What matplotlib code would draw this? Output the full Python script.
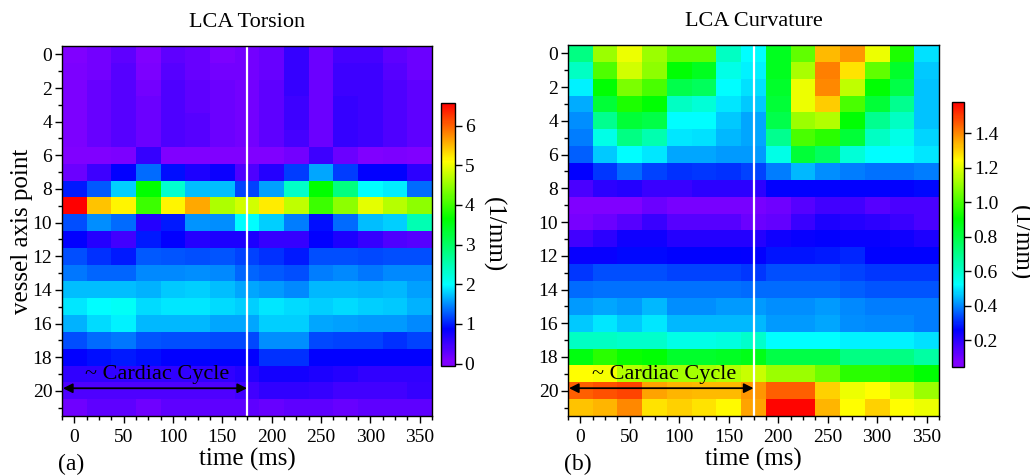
import numpy as np
import matplotlib
matplotlib.use("Agg")
import matplotlib.pyplot as plt
from matplotlib.colors import LinearSegmentedColormap, Normalize
from matplotlib.ticker import MultipleLocator

# ---------------- data ----------------
times = [0, 25, 50, 75, 100, 125, 150, 175, 200, 225, 250, 275, 300, 325, 350]
points = list(range(22))

torsion = [
    [0.05, 0.15, 0.30, 0.05, 0.30, 0.25, 0.10, 0.15, 0.25, 0.55, 0.20, 0.45, 0.45, 0.30, 0.20],
    [0.10, 0.15, 0.35, 0.10, 0.35, 0.25, 0.15, 0.15, 0.25, 0.55, 0.20, 0.50, 0.50, 0.35, 0.20],
    [0.12, 0.25, 0.35, 0.15, 0.40, 0.30, 0.20, 0.15, 0.30, 0.55, 0.20, 0.50, 0.50, 0.40, 0.30],
    [0.12, 0.25, 0.35, 0.20, 0.40, 0.30, 0.20, 0.15, 0.30, 0.50, 0.20, 0.55, 0.50, 0.40, 0.30],
    [0.12, 0.25, 0.35, 0.20, 0.40, 0.35, 0.20, 0.15, 0.30, 0.50, 0.20, 0.55, 0.50, 0.40, 0.30],
    [0.12, 0.25, 0.35, 0.20, 0.40, 0.35, 0.20, 0.15, 0.30, 0.45, 0.20, 0.55, 0.50, 0.40, 0.30],
    [0.00, 0.00, 0.10, 0.55, 0.05, 0.00, 0.03, 0.00, 0.00, 0.15, 0.50, 0.20, 0.05, 0.10, 0.05],
    [0.20, 0.50, 0.87, 1.35, 0.95, 0.70, 0.80, 0.40, 0.65, 1.15, 1.60, 1.15, 0.87, 0.87, 0.60],
    [1.00, 1.27, 1.80, 3.65, 2.30, 1.72, 1.72, 1.16, 1.58, 2.35, 3.65, 2.82, 2.00, 1.93, 1.36],
    [6.55, 5.45, 5.15, 4.00, 5.15, 5.60, 4.65, 4.85, 5.20, 4.75, 4.00, 4.45, 4.95, 4.70, 4.45],
    [1.22, 1.50, 1.36, 0.64, 1.00, 1.53, 1.50, 2.00, 1.80, 1.43, 0.95, 1.36, 1.72, 1.80, 2.50],
    [0.87, 0.64, 0.48, 1.00, 0.87, 0.64, 0.70, 0.70, 0.55, 0.55, 0.87, 0.70, 0.55, 0.40, 0.35],
    [1.22, 1.08, 1.00, 1.27, 1.24, 1.22, 1.24, 1.16, 1.08, 1.00, 1.22, 1.22, 1.19, 1.22, 1.22],
    [1.40, 1.32, 1.32, 1.47, 1.47, 1.50, 1.47, 1.32, 1.27, 1.22, 1.43, 1.47, 1.40, 1.47, 1.47],
    [1.72, 1.72, 1.72, 1.65, 1.76, 1.80, 1.72, 1.62, 1.55, 1.47, 1.68, 1.68, 1.65, 1.68, 1.58],
    [1.90, 2.00, 2.05, 1.85, 1.90, 1.90, 1.85, 1.80, 1.90, 1.85, 1.80, 1.85, 1.80, 1.76, 1.65],
    [1.65, 1.85, 1.95, 1.68, 1.68, 1.68, 1.62, 1.62, 1.80, 1.80, 1.62, 1.58, 1.55, 1.55, 1.47],
    [1.22, 1.36, 1.40, 1.24, 1.22, 1.22, 1.19, 1.19, 1.50, 1.50, 1.19, 1.16, 1.16, 1.08, 1.16],
    [0.87, 0.94, 1.00, 0.94, 0.87, 0.87, 0.87, 0.87, 1.08, 1.08, 0.87, 0.87, 0.87, 0.87, 0.87],
    [0.58, 0.58, 0.58, 0.58, 0.58, 0.58, 0.58, 0.64, 0.75, 0.75, 0.70, 0.64, 0.58, 0.58, 0.58],
    [0.40, 0.40, 0.40, 0.40, 0.40, 0.40, 0.40, 0.48, 0.58, 0.58, 0.55, 0.48, 0.48, 0.48, 0.55],
    [0.18, 0.30, 0.30, 0.18, 0.30, 0.30, 0.30, 0.30, 0.25, 0.30, 0.30, 0.25, 0.30, 0.30, 0.30],
]

curvature = [
    [0.71, 1.11, 1.22, 1.11, 1.03, 1.03, 0.61, 0.52, 0.86, 1.03, 1.33, 1.38, 1.22, 0.94, 0.49],
    [0.61, 1.01, 1.18, 1.09, 0.90, 0.86, 0.56, 0.51, 0.86, 1.13, 1.41, 1.28, 1.03, 0.84, 0.47],
    [0.51, 0.90, 1.07, 1.00, 0.79, 0.77, 0.52, 0.49, 0.84, 1.22, 1.40, 1.16, 0.90, 0.80, 0.46],
    [0.44, 0.82, 0.94, 0.90, 0.61, 0.58, 0.50, 0.47, 0.82, 1.22, 1.31, 1.00, 0.82, 0.69, 0.46],
    [0.41, 0.69, 0.82, 0.80, 0.52, 0.52, 0.47, 0.43, 0.79, 1.11, 1.14, 0.90, 0.69, 0.61, 0.46],
    [0.39, 0.56, 0.71, 0.64, 0.50, 0.49, 0.45, 0.43, 0.69, 1.00, 0.96, 0.82, 0.61, 0.56, 0.48],
    [0.36, 0.47, 0.52, 0.50, 0.43, 0.43, 0.42, 0.42, 0.56, 0.82, 0.76, 0.58, 0.52, 0.52, 0.50],
    [0.26, 0.32, 0.37, 0.33, 0.31, 0.32, 0.31, 0.33, 0.39, 0.45, 0.41, 0.39, 0.38, 0.38, 0.39],
    [0.156, 0.20, 0.21, 0.18, 0.18, 0.20, 0.20, 0.20, 0.26, 0.26, 0.26, 0.26, 0.26, 0.26, 0.27],
    [0.05, 0.06, 0.07, 0.11, 0.09, 0.09, 0.09, 0.09, 0.10, 0.14, 0.17, 0.17, 0.14, 0.156, 0.156],
    [0.09, 0.11, 0.14, 0.18, 0.14, 0.14, 0.14, 0.11, 0.12, 0.18, 0.22, 0.21, 0.20, 0.18, 0.156],
    [0.17, 0.20, 0.24, 0.24, 0.21, 0.21, 0.21, 0.21, 0.24, 0.25, 0.26, 0.25, 0.25, 0.24, 0.22],
    [0.25, 0.25, 0.27, 0.27, 0.265, 0.265, 0.265, 0.26, 0.28, 0.28, 0.29, 0.30, 0.265, 0.265, 0.265],
    [0.32, 0.34, 0.34, 0.34, 0.33, 0.33, 0.33, 0.32, 0.34, 0.34, 0.34, 0.33, 0.32, 0.32, 0.32],
    [0.37, 0.38, 0.38, 0.38, 0.375, 0.375, 0.375, 0.37, 0.37, 0.37, 0.37, 0.36, 0.35, 0.35, 0.35],
    [0.42, 0.43, 0.42, 0.45, 0.41, 0.41, 0.42, 0.42, 0.41, 0.41, 0.42, 0.40, 0.39, 0.39, 0.39],
    [0.47, 0.50, 0.47, 0.50, 0.45, 0.45, 0.45, 0.45, 0.42, 0.42, 0.43, 0.405, 0.40, 0.40, 0.39],
    [0.61, 0.61, 0.60, 0.60, 0.56, 0.56, 0.57, 0.60, 0.52, 0.52, 0.52, 0.51, 0.51, 0.51, 0.49],
    [0.88, 0.96, 0.92, 0.90, 0.84, 0.84, 0.85, 0.87, 0.80, 0.80, 0.80, 0.71, 0.71, 0.71, 0.66],
    [1.24, 1.23, 1.14, 1.11, 1.12, 1.12, 1.14, 1.17, 1.11, 1.11, 1.05, 0.96, 0.96, 0.94, 0.90],
    [1.45, 1.47, 1.49, 1.36, 1.34, 1.33, 1.33, 1.38, 1.45, 1.45, 1.30, 1.22, 1.24, 1.18, 1.11],
    [1.32, 1.34, 1.40, 1.28, 1.30, 1.28, 1.25, 1.36, 1.57, 1.57, 1.34, 1.24, 1.30, 1.24, 1.22],
]

torsion_ticks = [0, 1, 2, 3, 4, 5, 6]
curv_ticks = [0.2, 0.4, 0.6, 0.8, 1.0, 1.2, 1.4]
x_ticks = [0, 50, 100, 150, 200, 250, 300, 350]
y_ticks = [0, 2, 4, 6, 8, 10, 12, 14, 16, 18, 20]
cycle_end = 175

# ---------------- style ----------------
plt.rcParams['font.family'] = ['Liberation Serif', 'DejaVu Serif']

cmap = LinearSegmentedColormap.from_list(
    "origin_rainbow",
    [(0.0, '#8000ff'), (0.02, '#8000ff'), (0.14, '#0000ff'), (0.31, '#00ffff'),
     (0.56, '#00ff00'), (0.78, '#ffff00'), (1.0, '#ff0000')])

W, H = 1030, 476
fig = plt.figure(figsize=(W / 100, H / 100), dpi=100)


def fx(px):
    return px / W


def fy(py):
    return 1 - py / H


dt = times[1] - times[0]
extent = (times[0] - dt / 2, times[-1] + dt / 2, points[-1] + 0.5, points[0] - 0.5)


def panel(ax_rect, data, vmin, vmax, cax_rect, cticks, cfmt, title, letter, ylabel):
    ax = fig.add_axes(ax_rect)
    im = ax.imshow(np.array(data), cmap=cmap, norm=Normalize(vmin, vmax),
                   aspect='auto', extent=extent, interpolation='nearest')
    ax.set_xlim(extent[0], extent[1])
    ax.set_ylim(extent[2], extent[3])
    ax.axvline(cycle_end, color='white', lw=1.6)
    ax.set_xticks(x_ticks)
    ax.xaxis.set_minor_locator(MultipleLocator(12.5))
    ax.set_yticks(y_ticks)
    ax.yaxis.set_minor_locator(MultipleLocator(1))
    ax.tick_params(which='both', direction='out', labelsize=14, width=1, color='black')
    ax.tick_params(which='major', length=5)
    ax.tick_params(which='minor', length=3)
    ax.tick_params(axis='x', pad=4)
    ax.tick_params(axis='y', pad=2)
    for s in ax.spines.values():
        s.set_linewidth(1.0)
    ax.set_title(title, fontsize=16, pad=14)
    ax.set_xlabel('time (ms)', fontsize=18, labelpad=2)
    if ylabel:
        ax.set_ylabel(ylabel, fontsize=18, labelpad=0)
    # cardiac cycle arrow
    ax.annotate('', xy=(extent[0] + 1, 19.85), xytext=(cycle_end, 19.85),
                arrowprops=dict(arrowstyle='<|-|>', color='black', lw=1.3,
                                mutation_scale=14, shrinkA=0, shrinkB=0))
    ax.text((extent[0] + cycle_end) / 2 + 3, 19.62, '~ Cardiac Cycle', fontsize=16,
            ha='center', va='bottom')
    cax = fig.add_axes(cax_rect)
    cb = fig.colorbar(im, cax=cax, ticks=cticks)
    cb.ax.tick_params(direction='out', length=5, width=1, labelsize=14, pad=2)
    cb.ax.set_yticklabels([cfmt.format(t) for t in cticks])
    cb.outline.set_linewidth(1.0)
    ax.text(-0.01, -0.13, letter, transform=ax.transAxes, fontsize=17,
            ha='left', va='center')
    return ax


panel([fx(62), fy(416), fx(432) - fx(62), fy(46) - fy(416)], torsion, -0.06, 6.57,
      [fx(441), fy(366), fx(455) - fx(441), fy(103) - fy(366)],
      torsion_ticks, '{:d}', 'LCA Torsion', '(a)', 'vessel axis point')
panel([fx(568), fy(416), fx(939) - fx(568), fy(45) - fy(416)], curvature, 0.045, 1.58,
      [fx(952), fy(367), fx(964) - fx(952), fy(102) - fy(367)],
      curv_ticks, '{:.1f}', 'LCA Curvature', '(b)', None)

fig.text(fx(493), fy(235), '(1/mm)', rotation=270, fontsize=18, ha='center', va='center')
fig.text(fx(1020), fy(243), '(1/mm)', rotation=270, fontsize=18, ha='center', va='center')

fig.savefig('out.png', dpi=100)
